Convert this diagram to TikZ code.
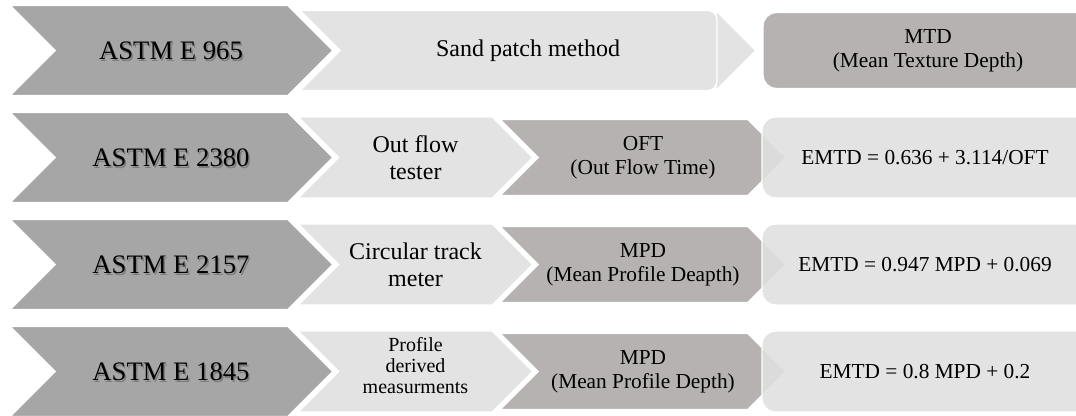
\documentclass[tikz,border=0pt]{standalone}
\usepackage{fontspec}
\setmainfont{Liberation Serif}
\definecolor{Slate}{HTML}{A6A6A6}
\definecolor{Mist}{HTML}{E3E3E3}
\definecolor{MistGlass}{HTML}{E0E0E0}
\definecolor{Taupe}{HTML}{B6B2B1}
% chevron: left x, tip x, centre y, half height
\newcommand{\chevpath}[4]{(#1,{#3-#4}) -- ({#2-#4},{#3-#4}) -- (#2,#3) -- ({#2-#4},{#3+#4}) -- (#1,{#3+#4}) -- ({#1+#4},#3) -- cycle}

\begin{document}
\begin{tikzpicture}[x=0.75pt,y=-0.75pt,
  outline/.style={draw=white,line width=1.1pt},
  codetext/.style={font=\fontsize{20}{24}\selectfont,text=black},
  codeshadow/.style={font=\fontsize{20}{24}\selectfont,text=black,opacity=.25},
  methtext/.style={font=\fontsize{18}{20.5}\selectfont,align=center},
  prmtext/.style={font=\fontsize{16}{18}\selectfont,align=center},
  eqtext/.style={font=\fontsize{16}{18}\selectfont}]
  \useasboundingbox (0,0) rectangle (1076,416);
  \clip (0,0) rectangle (1076,416);
  % ASTM E 965: one method, one result
  \filldraw[fill=Mist,outline] (716,10.5) -- (756,50.5) -- (716,90.5) -- cycle;
  \filldraw[fill=Mist,outline] (300,10.5) -- (708,10.5) arc[start angle=-90,end angle=0,radius=9]
    -- (717,81.5) arc[start angle=0,end angle=90,radius=9] -- (300,90.5) -- (340,50.5) -- cycle;
  \filldraw[fill=Taupe,outline,rounded corners=10] (763,12.5) rectangle (1090,88.5);
  \filldraw[fill=Slate,outline] \chevpath{10}{333}{50.5}{45};
  \node[codeshadow] (s1) at (172.5,52.5) {ASTM E 965};
  \node[codetext] (c1) at (171,50.5) {ASTM E 965};
  \node[methtext] (m1) at (528,50.5) {Sand patch method};
  \node[prmtext] (r1) at (928,50.5) {MTD\\(Mean Texture Depth)};

  % rows with a measured parameter and a conversion
  \foreach \n/\yc/\code/\fs/\dy/\meth/\prm/\eq in {
      2/157.5/2380/{\fontsize{18}{20.5}\selectfont}/0/{Out flow\\tester}/{OFT\\(Out Flow Time)}/{EMTD = 0.636 + 3.114/OFT},
      3/264.5/2157/{\fontsize{18}{20.5}\selectfont}/0/{Circular track\\meter}/{MPD\\(Mean Profile Deapth)}/{EMTD = 0.947 MPD + 0.069},
      4/371.5/1845/{\fontsize{15}{16}\selectfont}/-6/{Profile\\derived\\measurments}/{MPD\\(Mean Profile Depth)}/{EMTD = 0.8 MPD + 0.2}}{
    \filldraw[fill=Taupe,outline] \chevpath{500}{786}{\yc}{38};
    \filldraw[fill=MistGlass,fill opacity=.9,outline,rounded corners=10] (762,\yc-40.5) rectangle (1090,\yc+40.5);
    \filldraw[fill=Mist,outline] \chevpath{298}{533}{\yc}{40.5};
    \filldraw[fill=Slate,outline] \chevpath{10}{333}{\yc}{45};
    \node[codeshadow] (s\n) at (172.5,\yc+2) {ASTM E \code};
    \node[codetext] (c\n) at (171,\yc) {ASTM E \code};
    \node[methtext,font=\fs] (m\n) at (415.5,\yc+\dy) {\meth};
    \node[prmtext] (r\n) at (643,\yc) {\prm};
    \node[eqtext] (e\n) at (925,\yc) {\eq};
  }
\end{tikzpicture}
\end{document}
